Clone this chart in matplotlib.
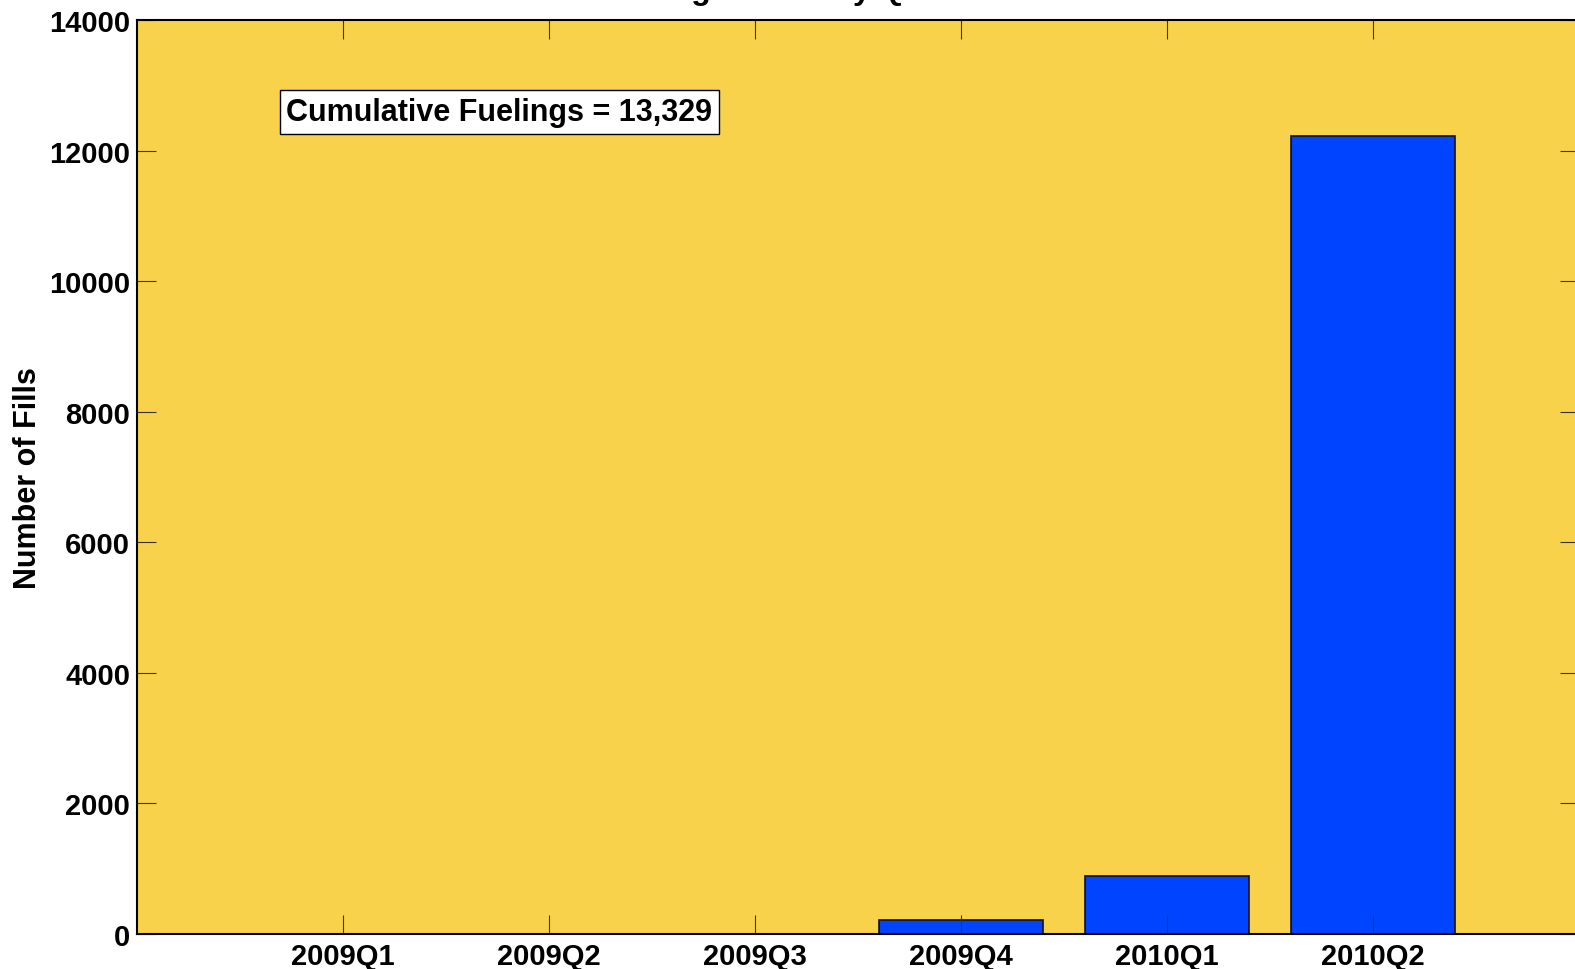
import matplotlib as mpl
mpl.use('Agg')
import matplotlib.pyplot as plt

quarters = ['2009Q1', '2009Q2', '2009Q3', '2009Q4', '2010Q1', '2010Q2']
fills = [0, 0, 0, 215, 891, 12223]
total_label = 'Cumulative Fuelings = 13,329'
title = 'Fueling Events by Quarter'

plt.rcParams['font.family'] = ['Liberation Sans', 'DejaVu Sans']
plt.rcParams['font.weight'] = 'bold'

fig = plt.figure(figsize=(15.75, 9.7), dpi=100)
ax = fig.add_axes([137 / 1575, 35 / 970, 1442 / 1575, 914 / 970])
ax.set_facecolor('#f9d24b')

pos = list(range(1, len(quarters) + 1))
ax.bar(pos, fills, width=0.8, color='#0044ff', edgecolor='#111111', linewidth=1.2)

ax.set_xlim(0, 7)
ax.set_ylim(0, 14000)
ax.set_xticks(pos)
ax.set_xticklabels(quarters, fontweight='bold')
ax.set_yticks(range(0, 14001, 2000))
ax.tick_params(direction='in', length=14, width=0.8, color='#3a3320',
               top=True, right=True, labelsize=21)
ax.tick_params(axis='x', pad=6)
ax.tick_params(axis='y', pad=5)
for s in ax.spines.values():
    s.set_linewidth(1.5)

ax.set_ylabel('Number of Fills', fontweight='bold', fontsize=22, labelpad=4)

ax.text(0.725, 12590, total_label, fontsize=22, fontweight='bold', va='center',
        bbox=dict(boxstyle='square,pad=0.22', fc='white', ec='black', lw=1))

# title sits mostly above the top edge, as in the source image
fig.text(597 / 1575, 1.0 + 1 / 970, title, fontsize=23, fontweight='bold',
         ha='left', va='baseline')

fig.savefig('out.png', dpi=100)
